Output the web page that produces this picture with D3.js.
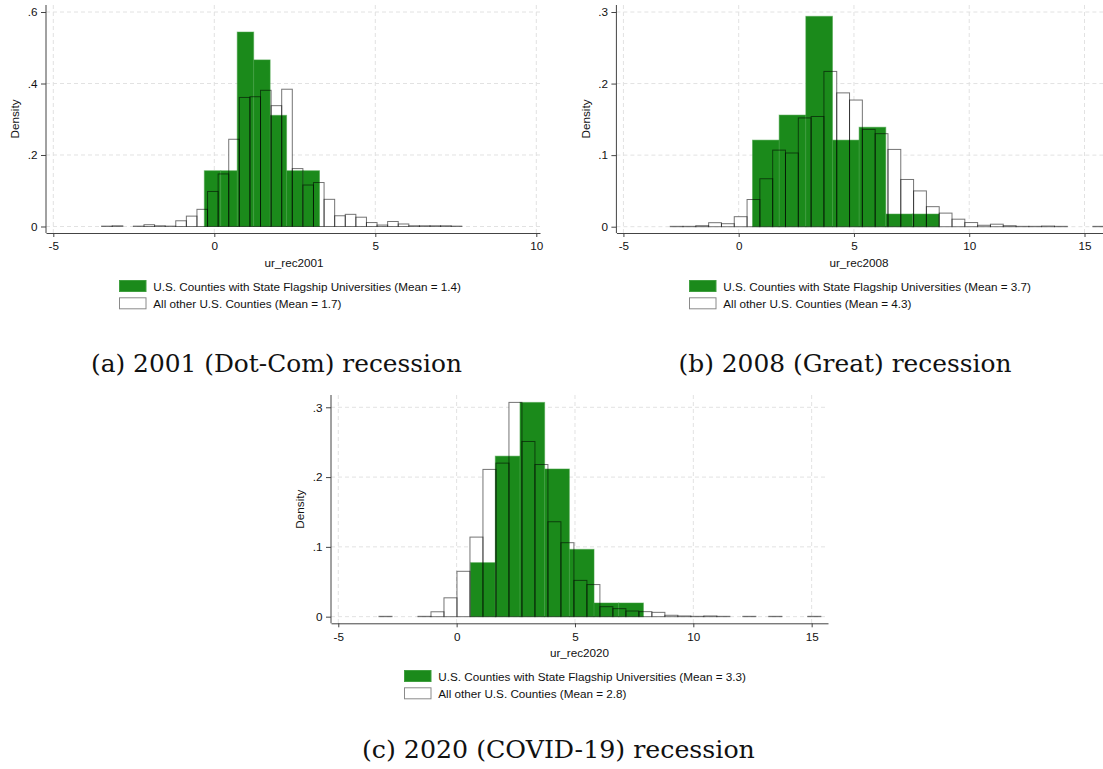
<!DOCTYPE html>
<html lang="en">
<head>
<meta charset="UTF-8" />
<title>Unemployment rate change, flagship vs other counties</title>
<script src="https://d3js.org/d3.v7.min.js"></script>
<style>
  body { margin: 0; background: #fff; }
  svg text { font-family: "Liberation Sans", Arial, sans-serif; fill: #111; }
  .caption { font-family: "DejaVu Serif", serif; }
</style>
</head>
<body>
<svg id="chart" width="1103" height="769"></svg>
<script>
// ---- values ----
const captions = ["(a) 2001 (Dot-Com) recession", "(b) 2008 (Great) recession", "(c) 2020 (COVID-19) recession"];
const xTitles = ["ur_rec2001", "ur_rec2008", "ur_rec2020"];
const flagMeans = ["1.4", "3.7", "3.3"];
const otherMeans = ["1.7", "4.3", "2.8"];

const xTicksA = [-5, 0, 5, 10];
const xTicksBC = [-5, 0, 5, 10, 15];
const yTicksA = [0, 0.2, 0.4, 0.6];
const yTicksBC = [0, 0.1, 0.2, 0.3];

// bins given as [first edge, bin width]; values are densities
const flagBinsA = [-0.31, 0.511];
const flagA = [0.156, 0.156, 0.544, 0.466, 0.311, 0.156, 0.156];
const otherBinsA = [-3.50, 0.329];
const otherA = [0.001, 0.002, 0, 0.001, 0.005, 0.002, 0.001, 0.016, 0.029, 0.048, 0.098, 0.147,
  0.244, 0.361, 0.363, 0.381, 0.338, 0.384, 0.162, 0.116, 0.123, 0.076, 0.030, 0.034, 0.026,
  0.011, 0.004, 0.014, 0.007, 0.002, 0.002, 0.002, 0.002, 0.001];

const flagBinsB = [0.60, 1.156];
const flagB = [0.121, 0.156, 0.294, 0.121, 0.139, 0.0177, 0.0177];
const otherBinsB = [-2.97, 0.5556];
const otherB = [0.0005, 0.0005, 0.0014, 0.0056, 0.0042, 0.014, 0.038, 0.067, 0.107, 0.103, 0.152,
  0.154, 0.217, 0.187, 0.177, 0.136, 0.130, 0.108, 0.066, 0.050, 0.028, 0.019, 0.0105, 0.0058,
  0.002, 0.0035, 0.0014, 0.0005, 0.0005, 0.0009, 0.0005, 0, 0, 0.0005];

const flagBinsC = [0.59, 1.043];
const flagC = [0.0774, 0.230, 0.307, 0.2116, 0.0965, 0.0196, 0.0196];
const otherBinsC = [-3.28, 0.549];
const otherC = [0.0005, 0, 0, 0.0005, 0.007, 0.027, 0.065, 0.114, 0.211, 0.220, 0.307, 0.251,
  0.218, 0.136, 0.106, 0.052, 0.046, 0.0143, 0.0115, 0.0081, 0.0072, 0.0062, 0.002, 0.001,
  0.0005, 0.001, 0.0005, 0, 0.0005, 0, 0.0005, 0, 0, 0.0005];

const green = "#1b8a1b";
const svg = d3.select("#chart");

// layout per panel (pixel frame of plot region + axis domain at those edges)
const panels = [
  { flagBins: flagBinsA, flag: flagA, otherBins: otherBinsA, other: otherA,
    xTicks: xTicksA, yTicks: yTicksA,
    left: 46, right: 540, top: 5, bottom: 233,
    xDomain: [-5.227, 10.115], yDomain: [-0.0182, 0.6196],
    titleX: 294, legendX: 119, legendY: 280, capX: 276.5, capY: 371.5, capW: 371 },
  { flagBins: flagBinsB, flag: flagB, otherBins: otherBinsB, other: otherB,
    xTicks: xTicksBC, yTicks: yTicksBC,
    left: 616.4, right: 1110, top: 5, bottom: 233,
    xDomain: [-5.304, 16.106], yDomain: [-0.0088, 0.3098],
    titleX: 859, legendX: 689, legendY: 280, capX: 845, capY: 371.5, capW: 333 },
  { flagBins: flagBinsC, flag: flagC, otherBins: otherBinsC, other: otherC,
    xTicks: xTicksBC, yTicks: yTicksBC,
    left: 331, right: 828, top: 395, bottom: 623.3,
    xDomain: [-5.308, 15.69], yDomain: [-0.0095, 0.3176],
    titleX: 579.5, legendX: 404, legendY: 670, capX: 558.4, capY: 757.5, capW: 393 }
];

const fmtY = d => d === 0 ? "0" : d3.format(".1f")(d).replace(/^0/, "");

function toBars(bins, vals) {
  return vals.map((v, i) => ({ x0: bins[0] + i * bins[1], x1: bins[0] + (i + 1) * bins[1], v }));
}

panels.forEach((p, k) => {
  const g = svg.append("g");
  const x = d3.scaleLinear().domain(p.xDomain).range([p.left, p.right]);
  const y = d3.scaleLinear().domain(p.yDomain).range([p.bottom, p.top]);

  // dashed grid
  g.append("g").selectAll("line").data(p.yTicks).join("line")
    .attr("x1", p.left).attr("x2", p.right)
    .attr("y1", d => y(d)).attr("y2", d => y(d))
    .attr("stroke", "#e2e2e2").attr("stroke-dasharray", "4,3");
  g.append("g").selectAll("line").data(p.xTicks).join("line")
    .attr("x1", d => x(d)).attr("x2", d => x(d))
    .attr("y1", p.top).attr("y2", p.bottom)
    .attr("stroke", "#e2e2e2").attr("stroke-dasharray", "4,3");

  const other = toBars(p.otherBins, p.other);
  const flag = toBars(p.flagBins, p.flag);

  // white fill of the outlined series, under the green one
  g.append("g").selectAll("rect").data(other).join("rect")
    .attr("x", d => x(d.x0)).attr("width", d => x(d.x1) - x(d.x0))
    .attr("y", d => y(d.v)).attr("height", d => y(0) - y(d.v))
    .attr("fill", "#fff");

  g.append("g").selectAll("rect").data(flag).join("rect")
    .attr("x", d => x(d.x0)).attr("width", d => x(d.x1) - x(d.x0))
    .attr("y", d => y(d.v)).attr("height", d => y(0) - y(d.v))
    .attr("fill", green)
    .attr("stroke", "#3f9f3f").attr("stroke-opacity", 0.5).attr("stroke-width", 1);

  g.append("g").selectAll("rect").data(other).join("rect")
    .attr("x", d => x(d.x0)).attr("width", d => x(d.x1) - x(d.x0))
    .attr("y", d => y(d.v)).attr("height", d => y(0) - y(d.v))
    .attr("fill", "none")
    .attr("stroke", "#000").attr("stroke-opacity", 0.55).attr("stroke-width", 1);

  // axes
  const xAxis = g.append("g").attr("transform", `translate(0,${p.bottom})`)
    .call(d3.axisBottom(x).tickValues(p.xTicks).tickSize(4).tickSizeOuter(0).tickPadding(5)
      .tickFormat(d => String(d)));
  const yAxis = g.append("g").attr("transform", `translate(${p.left},0)`)
    .call(d3.axisLeft(y).tickValues(p.yTicks).tickSize(5).tickSizeOuter(0).tickPadding(3.5)
      .tickFormat(fmtY));
  [xAxis, yAxis].forEach(a => {
    a.attr("font-family", null).attr("font-size", 11.7);
    a.select(".domain").attr("stroke", "#444");
    a.selectAll(".tick line").attr("stroke", "#444");
  });
  yAxis.select(".domain").attr("d", `M0,${p.bottom}V${p.top}`);

  g.append("text")
    .attr("transform", `translate(${p.left - 31},${(p.top + p.bottom) / 2}) rotate(-90)`)
    .attr("text-anchor", "middle").attr("dy", "0.35em")
    .attr("font-size", 11.7).text("Density");

  g.append("text")
    .attr("x", p.titleX).attr("y", p.bottom + 30).attr("dy", "0.35em")
    .attr("text-anchor", "middle").attr("font-size", 11.7)
    .text(xTitles[k]);

  // legend
  const lg = g.append("g").attr("transform", `translate(${p.legendX},${p.legendY})`);
  const items = [
    { fill: green, stroke: "#3f9f3f", label: `U.S. Counties with State Flagship Universities (Mean = ${flagMeans[k]})` },
    { fill: "#fff", stroke: "#8a8a8a", label: `All other U.S. Counties (Mean = ${otherMeans[k]})` }
  ];
  items.forEach((it, i) => {
    lg.append("rect").attr("x", 0.5).attr("y", i * 17.3 + 0.5)
      .attr("width", 26.5).attr("height", 11)
      .attr("fill", it.fill).attr("stroke", it.stroke);
    lg.append("text").attr("x", 34.3).attr("y", i * 17.3 + 6.5).attr("dy", "0.35em")
      .attr("font-size", 11.7).text(it.label);
  });

  // caption under the panel
  svg.append("text").attr("class", "caption")
    .attr("x", p.capX).attr("y", p.capY)
    .attr("text-anchor", "middle").attr("font-size", 24.8)
    .attr("textLength", p.capW).attr("lengthAdjust", "spacingAndGlyphs")
    .text(captions[k]);
});
</script>
</body>
</html>
